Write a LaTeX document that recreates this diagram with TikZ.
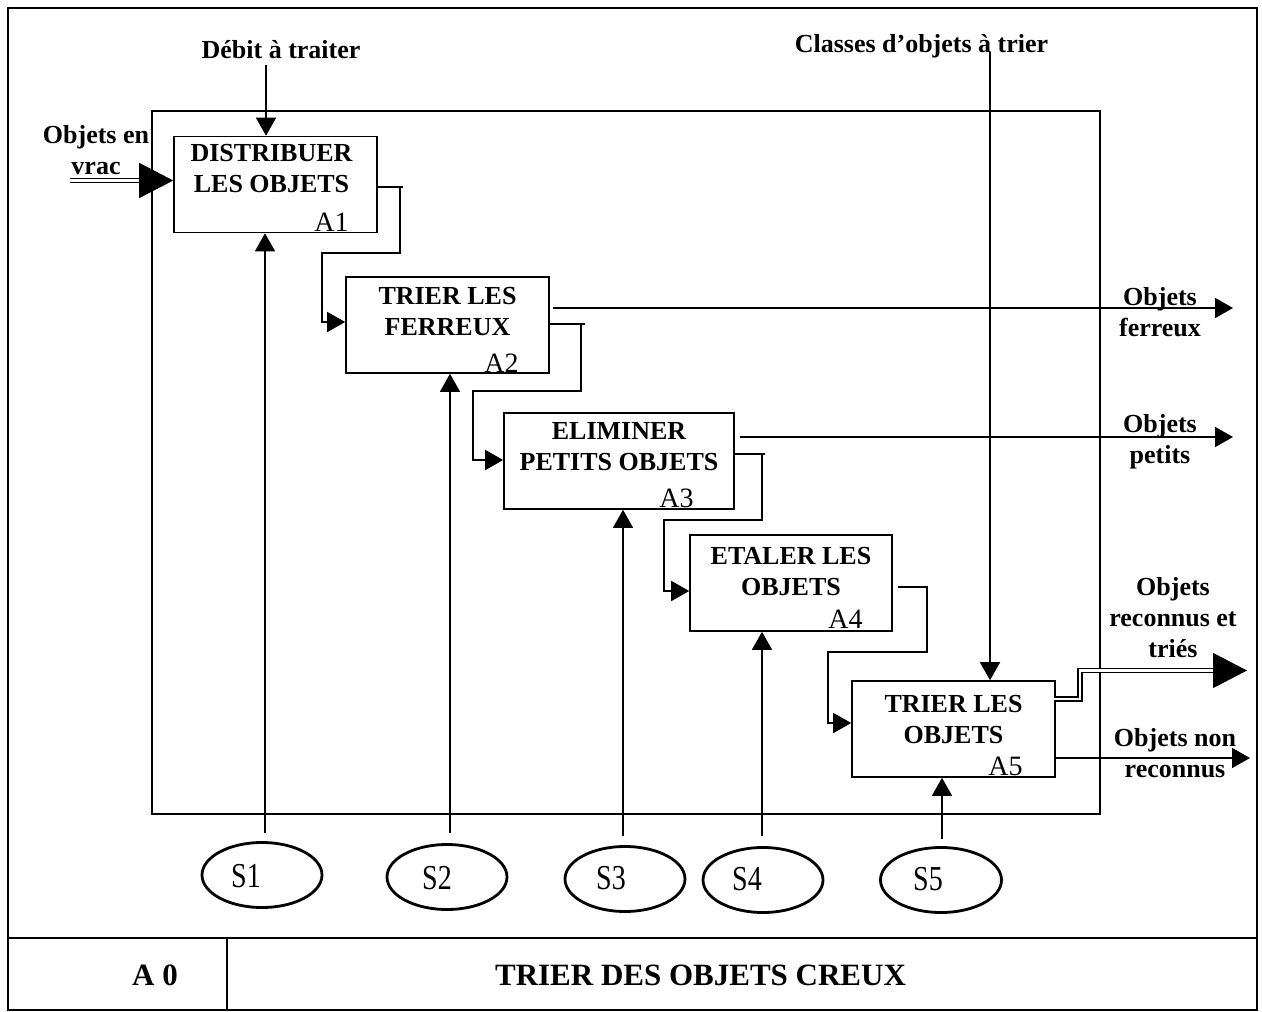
\documentclass[tikz,border=0pt]{standalone}
\usepackage{fontspec}
\usepackage{graphicx}
\setmainfont{Liberation Serif}
\usetikzlibrary{arrows.meta,shapes.geometric,calc}

\tikzset{
  frame/.style={line width=1.6pt},
  activity/.style={draw, rectangle, line width=1.6pt, inner sep=0pt,
    minimum width=203pt, minimum height=96pt},
  acttext/.style={anchor=north, inner sep=0pt, align=center,
    font=\fontsize{26}{31}\selectfont\bfseries},
  actnum/.style={anchor=base east, inner sep=0pt, font=\fontsize{28}{30}\selectfont},
  tag/.style={inner sep=0pt, align=center, font=\fontsize{26}{31}\selectfont\bfseries},
  smalltip/.style={-{Triangle[length=18pt,width=20pt]}},
  flow/.style={line width=1.6pt, smalltip},
  link/.style={line width=1.6pt},
  mech/.style={line width=1.3pt, smalltip},
  support/.style={draw, ellipse, line width=2.8pt, inner sep=0pt,
    minimum width=120pt, minimum height=65pt},
  suplabel/.style={anchor=base, inner sep=0pt, font=\fontsize{28}{30}\selectfont},
  dbl/.style={double, line width=1.3pt, double distance=2.6pt},
  bigtip/.style={line width=1pt, -{Triangle[length=34pt,width=35pt]}},
  cartouche/.style={anchor=base, inner sep=0pt, font=\fontsize{31}{36}\selectfont\bfseries},
}

\begin{document}
\begin{tikzpicture}[x=1pt,y=-1pt]
\useasboundingbox (0,0) rectangle (1262,1012);
\fill[white] (0,0) rectangle (1262,1012);

% sheet frame and title block
\draw[frame] (8,8) rectangle (1257,1010);
\draw[frame] (8,938) -- (1257,938);
\draw[frame] (8,938) rectangle (227,1010);
\node[cartouche] (refno) at (155,985) {A 0};
\node[cartouche] (title) at (700.5,985) {TRIER DES OBJETS CREUX};

% boundary of the A0 activity
\draw[frame] (152,111) rectangle (1100,814);

% activities
\node[activity] (a1) at (275.5,184.5) {};
\node[activity] (a2) at (447.5,325) {};
\node[activity, minimum width=230pt] (a3) at (619,461) {};
\node[activity, minimum width=202pt] (a4) at (791,583) {};
\node[activity] (a5) at (953.5,729) {};

\node[acttext] (t1) at ([xshift=-4pt,yshift=-8pt]a1.north) {DISTRIBUER\\LES OBJETS};
\node[acttext] (t2) at ([yshift=-11pt]a2.north) {TRIER LES\\FERREUX};
\node[acttext] (t3) at ([yshift=-10pt]a3.north) {ELIMINER\\PETITS OBJETS};
\node[acttext] (t4) at ([yshift=-13pt]a4.north) {ETALER LES\\OBJETS};
\node[acttext] (t5) at ([yshift=-15pt]a5.north) {TRIER LES\\OBJETS};

\node[actnum] (n1) at ([xshift=-29pt,yshift=2pt]a1.south east) {A1};
\node[actnum] (n2) at ([xshift=-31pt,yshift=1pt]a2.south east) {A2};
\node[actnum] (n3) at ([xshift=-41pt,yshift=2pt]a3.south east) {A3};
\node[actnum] (n4) at ([xshift=-30pt,yshift=3pt]a4.south east) {A4};
\node[actnum] (n5) at ([xshift=-33pt,yshift=2pt]a5.south east) {A5};

% links between activities
\draw[flow] (a1.east |- 0,187) -| (400,253) -| (322,322) -- (a2.west |- 0,322);
\draw[link] (400,187) -- (403,187);
\draw[flow] (a2.east |- 0,324) -| (581,391) -| (473,460) -- (a3.west |- 0,460);
\draw[link] (581,324) -- (585,324);
\draw[flow] (a3.east |- 0,454) -| (762,520) -| (664,591) -- (a4.west |- 0,591);
\draw[link] (762,454) -- (765,454);
\draw[flow] ($(a4.east |- 0,587)+(5,0)$) -| (927,652) -| (828,723) -- (a5.west |- 0,723);

% input
\coordinate (vin) at (70,180.5);
\draw[dbl] (vin) -- (140,180.5);
\draw[bigtip] (140,180.5) -- (a1.west |- vin);
\node[tag, anchor=north] (lvrac) at (96,125) {Objets en\\vrac};

% controls
\coordinate (deb) at (266,65);
\draw[flow] (deb) -- (deb |- a1.north);
\node[tag, anchor=base] (ldeb) at (281,58) {Débit à traiter};
\coordinate (cls) at (990,52);
\draw[flow] (cls) -- (cls |- a5.north);
\node[tag, anchor=base] (lcls) at (921.5,52) {Classes d’objets à trier};

% outputs
\coordinate (fer) at (1233,308);
\draw[flow] ($(a2.east |- fer)+(3,0)$) -- (fer);
\node[tag, anchor=north] (lfer) at (1160,287) {Objets\\ferreux};
\coordinate (pet) at (1233,437);
\draw[flow] ($(a3.east |- pet)+(5,0)$) -- (pet);
\node[tag, anchor=north] (lpet) at (1160,414) {Objets\\petits};
\coordinate (rec) at (1247,670.5);
\draw[dbl] ($(a5.east |- 0,699)+(-2,0)$) -| (1080,670.5) -- (1213,670.5);
\draw[bigtip] (1213,670.5) -- (rec);
\node[tag, anchor=north] (lrec) at (1173,577) {Objets\\reconnus et\\triés};
\coordinate (non) at (1250,758);
\draw[flow] (a5.east |- non) -- (non);
\node[tag, anchor=north] (lnon) at (1175,728) {Objets non\\reconnus};

% supports
\node[support] (s1) at (262,875) {};
\node[support] (s2) at (447,877) {};
\node[support] (s3) at (625,879) {};
\node[support] (s4) at (763,880) {};
\node[support, minimum width=121pt] (s5) at (941,880) {};
\node[suplabel] (ls1) at (246,887) {\scalebox{1}[1.25]{S1}};
\node[suplabel] (ls2) at (437,889) {\scalebox{1}[1.25]{S2}};
\node[suplabel] (ls3) at (611,889) {\scalebox{1}[1.25]{S3}};
\node[suplabel] (ls4) at (747,890) {\scalebox{1}[1.25]{S4}};
\node[suplabel] (ls5) at (928,890) {\scalebox{1}[1.25]{S5}};

\coordinate (m1) at (265,833);
\coordinate (m2) at (450,833);
\coordinate (m3) at (623,836);
\coordinate (m4) at (762,836);
\coordinate (m5) at (942,839);
\draw[mech] (m1) -- (m1 |- a1.south);
\draw[mech] (m2) -- (m2 |- a2.south);
\draw[mech] (m3) -- (m3 |- a3.south);
\draw[mech] (m4) -- (m4 |- a4.south);
\draw[mech] (m5) -- (m5 |- a5.south);
\end{tikzpicture}
\end{document}
